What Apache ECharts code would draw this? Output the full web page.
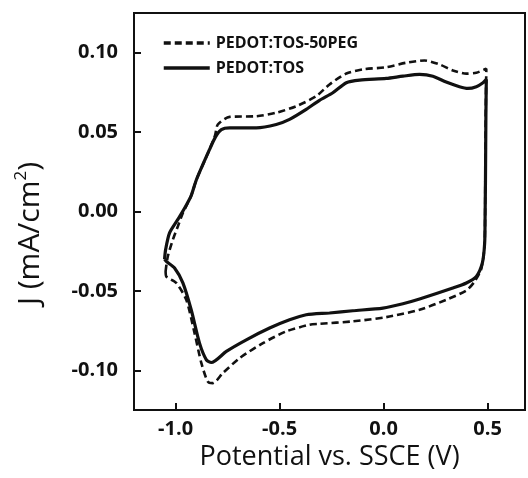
<!DOCTYPE html>
<html>
<head>
<meta charset="utf-8">
<script src="https://cdn.jsdelivr.net/npm/echarts@6/dist/echarts.min.js"></script>
<style>
  html, body { margin: 0; padding: 0; background: #fff; }
  #chart { width: 528px; height: 478px; }
</style>
</head>
<body>
<div id="chart"></div>
<script>
  // cyclic voltammograms, traced round the loop (anodic sweep, then cathodic)
  const pegX = [-1.048, -1.045, -1.037, -1.013, -0.989, -0.965, -0.925, -0.900, -0.837, -0.810, -0.797, -0.740, -0.612, -0.516, -0.420, -0.324, -0.260, -0.179, -0.099, 0.013, 0.109, 0.197, 0.269, 0.333, 0.398, 0.446, 0.494,
    0.491, 0.489, 0.486, 0.470, 0.438, 0.398, 0.301, 0.173, 0.013, -0.148, -0.308, -0.356, -0.468, -0.580, -0.692, -0.773, -0.821, -0.845, -0.876, -0.909, -0.949, -0.997, -1.045, -1.048]
  const pegY = [-0.0377, -0.0345, -0.028, -0.0177, -0.0093, -0.001, 0.010, 0.020, 0.039, 0.048, 0.0548, 0.0596, 0.060, 0.0622, 0.0663, 0.0726, 0.080, 0.0869, 0.0895, 0.0909, 0.0937, 0.0951, 0.0926, 0.0888, 0.0868, 0.0874, 0.0899,
    0.060, 0.020, -0.020, -0.036, -0.044, -0.0497, -0.0556, -0.0619, -0.0665, -0.0692, -0.0707, -0.0713, -0.0755, -0.0829, -0.0923, -0.1018, -0.1081, -0.1071, -0.0955, -0.0765, -0.0555, -0.045, -0.0409, -0.0377]

  const tosX = [-1.053, -1.048, -1.029, -0.989, -0.957, -0.925, -0.900, -0.837, -0.808, -0.780, -0.740, -0.612, -0.516, -0.452, -0.372, -0.308, -0.244, -0.179, -0.115, 0.013, 0.093, 0.173, 0.237, 0.301, 0.365, 0.405, 0.446, 0.478, 0.494,
    0.492, 0.490, 0.488, 0.486, 0.475, 0.446, 0.398, 0.333, 0.173, 0.093, -0.003, -0.148, -0.260, -0.372, -0.452, -0.548, -0.660, -0.756, -0.828, -0.852, -0.885, -0.925, -0.965, -1.005, -1.045, -1.053]
  const tosY = [-0.030, -0.024, -0.0135, -0.005, 0.002, 0.010, 0.020, 0.039, 0.047, 0.0516, 0.0527, 0.0527, 0.0548, 0.058, 0.0643, 0.070, 0.0748, 0.0811, 0.0827, 0.0838, 0.0852, 0.0863, 0.0852, 0.0815, 0.0786, 0.0775, 0.0786, 0.0811, 0.0832,
    0.060, 0.020, -0.005, -0.020, -0.0324, -0.0409, -0.045, -0.0482, -0.0551, -0.0581, -0.0608, -0.0625, -0.0639, -0.065, -0.0682, -0.0734, -0.0808, -0.0881, -0.0951, -0.0934, -0.0829, -0.0619, -0.045, -0.0356, -0.0314, -0.030]

  const xTicks = [-1.0, -0.5, 0.0, 0.5]
  const yTicks = [-0.10, -0.05, 0.00, 0.05, 0.10]
  const names = ['PEDOT:TOS-50PEG', 'PEDOT:TOS']

  const zip = (xs, ys) => xs.map((x, i) => [x, ys[i]])
  const font = '"Open Sans", "Noto Sans", sans-serif'
  const ink = '#111'

  let chart = echarts.init(document.getElementById('chart'))

  let options = {
    backgroundColor: '#fff',
    animation: false,
    grid: {
      left: 134,
      right: 3,
      top: 13,
      bottom: 68,
      show: true,
      borderColor: ink,
      borderWidth: 2
    },
    legend: {
      orient: 'vertical',
      left: 157,
      top: 30,
      itemWidth: 46,
      itemHeight: 14,
      itemGap: 9,
      data: names,
      itemStyle: { opacity: 0 },
      lineStyle: { width: 3.5 },
      textStyle: {
        fontFamily: font,
        fontWeight: 'bold',
        fontSize: 16,
        color: ink,
        padding: [0, 0, 0, 1]
      }
    },
    xAxis: {
      type: 'value',
      min: -1.2,
      max: 0.68,
      name: 'Potential vs. SSCE (V)',
      nameLocation: 'middle',
      nameGap: 33,
      nameTextStyle: {
        fontFamily: font,
        fontSize: 27,
        color: ink
      },
      axisLine: { onZero: false, lineStyle: { color: ink, width: 2 } },
      axisTick: {
        inside: true,
        length: 7,
        customValues: xTicks,
        lineStyle: { color: ink, width: 2 }
      },
      axisLabel: {
        customValues: xTicks,
        margin: 9,
        fontFamily: font,
        fontWeight: 'bold',
        fontSize: 20,
        color: ink,
        formatter: v => v.toFixed(1)
      },
      splitLine: { show: false }
    },
    yAxis: {
      type: 'value',
      min: -0.125,
      max: 0.125,
      name: 'J (mA/cm{sup|2})',
      nameLocation: 'middle',
      nameGap: 87,
      nameTextStyle: {
        fontFamily: font,
        fontSize: 30,
        color: ink,
        lineHeight: 34,
        padding: [0, 44, 0, 0],
        rich: {
          sup: {
            fontFamily: font,
            fontSize: 17,
            color: ink,
            verticalAlign: 'top',
            lineHeight: 17
          }
        }
      },
      axisLine: { onZero: false, lineStyle: { color: ink, width: 2 } },
      axisTick: {
        inside: true,
        length: 7,
        customValues: yTicks,
        lineStyle: { color: ink, width: 2 }
      },
      axisLabel: {
        customValues: yTicks,
        margin: 16,
        fontFamily: font,
        fontWeight: 'bold',
        fontSize: 20,
        color: ink,
        formatter: v => v.toFixed(2)
      },
      splitLine: { show: false }
    },
    series: [
      {
        name: names[0],
        type: 'line',
        data: zip(pegX, pegY),
        showSymbol: false,
        symbol: 'none',
        smooth: 0.25,
        lineStyle: { color: ink, width: 2.6, type: [7, 4] },
        itemStyle: { color: ink }
      },
      {
        name: names[1],
        type: 'line',
        data: zip(tosX, tosY),
        showSymbol: false,
        symbol: 'none',
        smooth: 0.25,
        lineStyle: { color: ink, width: 3.2 },
        itemStyle: { color: ink }
      }
    ]
  }

  chart.setOption(options, true)
</script>
</body>
</html>
